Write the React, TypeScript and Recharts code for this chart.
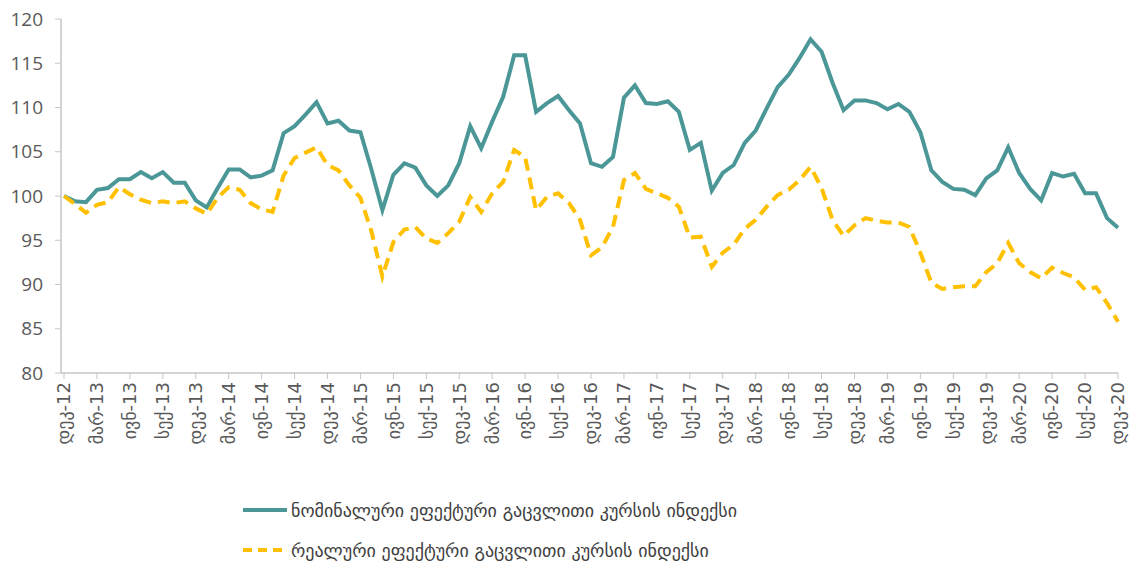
import { LineChart, Line, XAxis, YAxis, Legend } from 'recharts';

// month abbreviations used for tick labels
const monthNames = ['იან', 'თებ', 'მარ', 'აპრ', 'მაი', 'ივნ', 'ივლ', 'აგვ', 'სექ', 'ოქტ', 'ნოე', 'დეკ'];
const startYear = 2012;
const startMonth = 11; // December

const nominal = [
  100.0, 99.4, 99.3, 100.7, 100.9, 101.9, 101.9, 102.7, 102.0, 102.7, 101.5, 101.5,
  99.5, 98.7, 100.9, 103.0, 103.0, 102.1, 102.3, 102.9, 107.1, 107.9, 109.2, 110.6,
  108.2, 108.5, 107.4, 107.2, 103.0, 98.4, 102.4, 103.7, 103.2, 101.2, 100.0, 101.2,
  103.7, 107.9, 105.4, 108.4, 111.2, 115.9, 115.9, 109.5, 110.5, 111.3, 109.7, 108.2,
  103.7, 103.3, 104.4, 111.1, 112.5, 110.5, 110.4, 110.7, 109.5, 105.2, 106.0, 100.6,
  102.6, 103.5, 106.0, 107.4, 109.9, 112.3, 113.7, 115.6, 117.7, 116.3, 112.8, 109.7,
  110.8, 110.8, 110.5, 109.8, 110.4, 109.5, 107.2, 102.9, 101.6, 100.8, 100.7, 100.1,
  102.0, 102.9, 105.5, 102.6, 100.8, 99.5, 102.6, 102.2, 102.5, 100.3, 100.3, 97.5,
  96.4,
];

const real = [
  100.0, 99.1, 98.1, 99.0, 99.3, 101.0, 100.2, 99.6, 99.2, 99.4, 99.2, 99.4,
  98.6, 98.0, 99.8, 101.0, 100.7, 99.2, 98.5, 98.2, 102.3, 104.3, 104.9, 105.5,
  103.5, 102.9, 101.2, 99.8, 96.0, 90.9, 94.8, 96.2, 96.5, 95.2, 94.7, 95.8,
  97.1, 99.9, 98.2, 100.3, 101.6, 105.2, 104.4, 98.4, 99.9, 100.3, 99.2, 97.3,
  93.3, 94.2, 96.5, 101.8, 102.6, 100.8, 100.3, 99.8, 98.8, 95.3, 95.4, 92.0,
  93.6, 94.5, 96.3, 97.3, 98.8, 100.1, 100.7, 101.8, 103.3, 100.9, 97.3, 95.5,
  96.7, 97.5, 97.2, 97.0, 97.0, 96.5, 93.6, 90.2, 89.5, 89.7, 89.8, 89.8,
  91.4, 92.4, 94.7, 92.4, 91.4, 90.7, 91.9, 91.3, 90.8, 89.4, 89.7, 87.9,
  85.8,
];

const yTicks = [80, 85, 90, 95, 100, 105, 110, 115, 120];

const nominalName = 'ნომინალური ეფექტური გაცვლითი კურსის ინდექსი';
const realName = 'რეალური ეფექტური გაცვლითი კურსის ინდექსი';

const data = nominal.map((v, i) => {
  const m = (startMonth + i) % 12;
  const y = startYear + Math.floor((startMonth + i) / 12);
  return { label: `${monthNames[m]}-${String(y % 100)}`, nominal: v, real: real[i] };
});

const TEAL = '#4b9798';
const GOLD = '#ffc000';
const AXIS = '#c6c6c6';

const MonthTick = ({ x, y, payload }: any) => (
  <g transform={`translate(${x},${y})`}>
    <text
      x={0}
      y={0}
      dy="0.35em"
      textAnchor="end"
      transform="rotate(-90)"
      fill="#595959"
      fontSize={18}
      fontFamily="DejaVu Sans"
    >
      {payload.value}
    </text>
  </g>
);

const renderLegend = () => (
  <div style={{ fontFamily: 'DejaVu Sans', fontSize: 18, color: '#404040' }}>
    <div style={{ display: 'flex', alignItems: 'center', height: 40 }}>
      <svg width={48} height={10}>
        <line x1={0} y1={5} x2={44} y2={5} stroke={TEAL} strokeWidth={4} />
      </svg>
      <span>{nominalName}</span>
    </div>
    <div style={{ display: 'flex', alignItems: 'center', height: 40 }}>
      <svg width={48} height={10}>
        <line x1={0} y1={5} x2={44} y2={5} stroke={GOLD} strokeWidth={4} strokeDasharray="9 6" />
      </svg>
      <span>{realName}</span>
    </div>
  </div>
);

export default function App() {
  return (
    <div style={{ position: 'absolute', left: 0, top: 0, background: '#fff' }}>
      <LineChart width={1135} height={565} data={data} margin={{ top: 19, right: 17, left: 0, bottom: 0 }}>
        <XAxis
          dataKey="label"
          interval={2}
          height={192}
          padding={{ left: 3, right: 0 }}
          tickSize={6}
          tickMargin={3}
          stroke={AXIS}
          axisLine={{ stroke: AXIS, strokeWidth: 1.5 }}
          tickLine={{ stroke: AXIS }}
          tick={<MonthTick />}
        />
        <YAxis
          domain={[80, 120]}
          ticks={yTicks}
          width={61}
          tickSize={6}
          tickMargin={12}
          axisLine={{ stroke: AXIS, strokeWidth: 1.5 }}
          tickLine={{ stroke: AXIS }}
          tick={{ fill: '#595959', fontSize: 19, fontFamily: 'Open Sans' }}
        />
        <Legend
          layout="vertical"
          align="center"
          verticalAlign="middle"
          content={renderLegend}
          wrapperStyle={{ left: 243, top: 490, width: 700 }}
        />
        <Line
          type="linear"
          dataKey="nominal"
          name={nominalName}
          stroke={TEAL}
          strokeWidth={4}
          dot={false}
          isAnimationActive={false}
        />
        <Line
          type="linear"
          dataKey="real"
          name={realName}
          stroke={GOLD}
          strokeWidth={4}
          strokeDasharray="12 7"
          dot={false}
          isAnimationActive={false}
        />
      </LineChart>
    </div>
  );
}
